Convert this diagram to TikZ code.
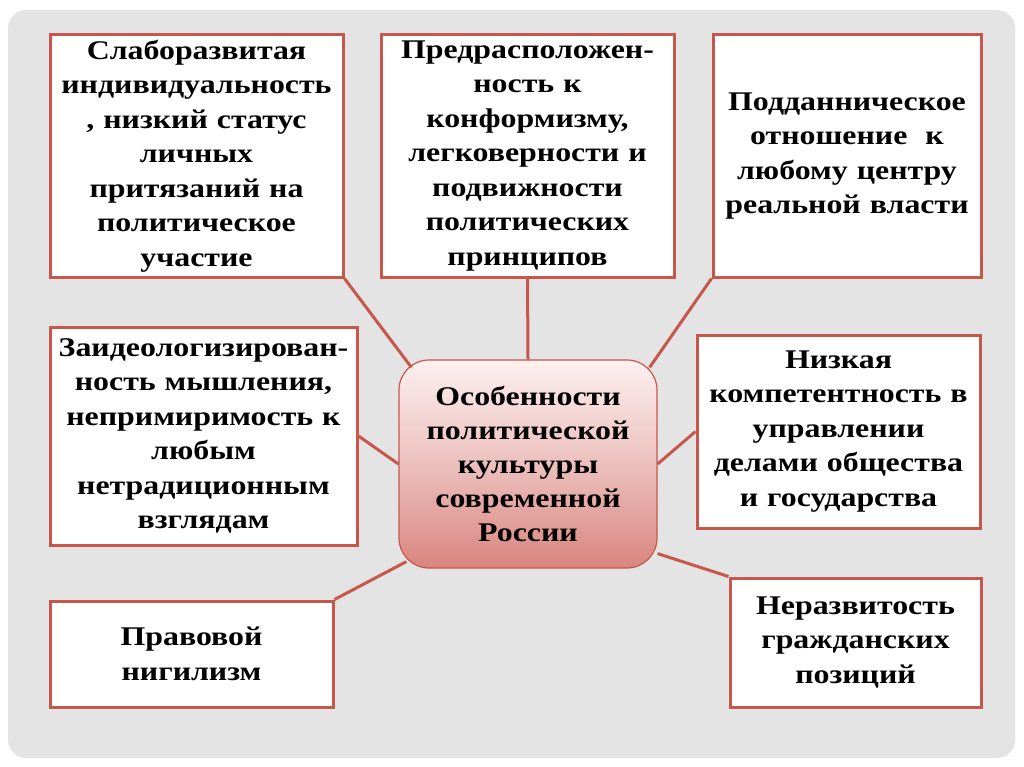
\documentclass[tikz,border=0pt]{standalone}
\usepackage{fontspec}
\setmainfont{Liberation Serif}[FakeStretch=1.18]
\usetikzlibrary{calc}
\definecolor{redline}{HTML}{C8574B}
\definecolor{bggray}{HTML}{E4E4E4}
\definecolor{ctop}{HTML}{FCF0EF}
\definecolor{cbot}{HTML}{D9857F}
\tikzset{
  txtbox/.style={draw=redline, line width=3pt, fill=white, inner sep=0pt, align=center,
    font=\fontsize{27}{34.5}\selectfont\bfseries},
  centerbox/.style={draw=redline, line width=1.2pt, rounded corners=30pt, inner sep=0pt, align=center,
    top color=ctop, bottom color=cbot, middle color=cbot!45!ctop,
    font=\fontsize{27}{34}\selectfont\bfseries},
  conn/.style={draw=redline, line width=3pt}
}
\begin{document}
\begin{tikzpicture}[x=1pt,y=-1pt]
\useasboundingbox (0,0) rectangle (1024,767);
\fill[white] (0,0) rectangle (1024,767);
\fill[bggray, rounded corners=18pt] (8,10) rectangle (1015,758);

\node[txtbox, minimum width=293pt, minimum height=242pt, text width=289pt] (b1) at (196.5,156)
  {Слаборазвитая\\индивидуальность\\, низкий статус\\личных\\притязаний на\\политическое\\участие};
\node[txtbox, minimum width=293pt, minimum height=242pt, text width=289pt] (b2) at (527.5,156)
  {Предрасположен-\\ность к\\конформизму,\\легковерности и\\подвижности\\политических\\принципов};
\node[txtbox, minimum width=268pt, minimum height=242pt, text width=264pt] (b3) at (847,156)
  {Подданническое\\отношение~~к\\любому центру\\реальной власти};
\node[txtbox, minimum width=307pt, minimum height=218pt, text width=303pt] (b4) at (203.5,436)
  {Заидеологизирован-\\ность мышления,\\непримиримость к\\любым\\нетрадиционным\\взглядам};
\node[txtbox, minimum width=283pt, minimum height=193pt, text width=279pt] (b5) at (838.5,431.5)
  {Низкая\\компетентность в\\управлении\\делами общества\\и государства};
\node[txtbox, minimum width=283pt, minimum height=106pt, text width=279pt] (b6) at (191.5,654)
  {Правовой\\нигилизм};
\node[txtbox, minimum width=251pt, minimum height=129pt, text width=247pt] (b7) at (855.5,642.5)
  {Неразвитость\\гражданских\\позиций};

\node[centerbox, minimum width=258pt, minimum height=208pt, text width=254pt] (c) at (528,464)
  {Особенности\\политической\\культуры\\современной\\России};

\draw[conn] (b1.south east) -- ($(c.north west)+(13,8)$);
\draw[conn] (b2.south) -- (c.north);
\draw[conn] (b3.south west) -- ($(c.north east)+(-8,8)$);
\draw[conn] (b4.east) -- (c.west);
\draw[conn] (c.east) -- (b5.west);
\draw[conn] (b6.north east) -- ($(c.south west)+(8,-7)$);
\draw[conn] ($(c.south east)+(0,-15)$) -- (b7.north west);
\end{tikzpicture}
\end{document}
